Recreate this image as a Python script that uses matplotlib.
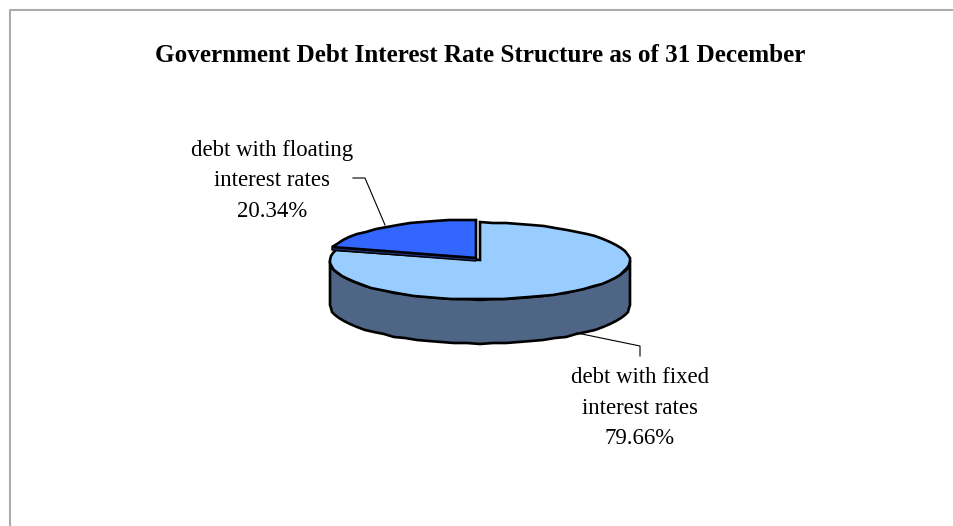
import numpy as np
import matplotlib
matplotlib.use("Agg")
import matplotlib.pyplot as plt

TITLE = "Government Debt Interest Rate Structure as of 31 December"
shares = [79.66, 20.34]
names = ["debt with fixed\ninterest rates", "debt with floating\ninterest rates"]

LIGHT = "#99ccff"
BLUE = "#3366ff"
WALL = "#4f6585"
NAVY = "#1f3a8a"
FRAME = "#ababab"

# pie geometry in pixels
RX, RY, DEPTH = 150, 38.5, 44
CX, CY = 480, 261
OFF_X, OFF_Y = -4, -3


def rim(a0, a1, cx=CX, cy=CY):
    # points on the ellipse, angles clockwise from 12 o'clock
    # coarse steps snapped to whole pixels give the bumpy outline
    n = max(int(abs(a1 - a0) / 5), 2) + 1
    t = np.radians(np.linspace(a0, a1, n))
    return np.round(cx + RX * np.sin(t)), np.round(cy - RY * np.cos(t))


def main():
    fig = plt.figure(figsize=(9.54, 5.26), dpi=100)
    ax = fig.add_axes([0, 0, 1, 1])
    ax.set_xlim(0, 954)
    ax.set_ylim(526, 0)
    ax.axis("off")

    # chart border, open on the right and at the bottom
    ax.plot([10, 10, 954], [526, 10, 10], color=FRAME, lw=1.5)

    split = 360 * shares[0] / sum(shares)

    # outer wall of the big slice
    x, y = rim(90, 270)
    ax.fill(np.r_[x, x[::-1]], np.r_[y, y[::-1] + DEPTH],
            facecolor=WALL, edgecolor="black", lw=1.9, zorder=2)

    # big slice top
    x, y = rim(0, split)
    ax.fill(np.r_[CX, x], np.r_[CY - 1, y],
            facecolor=LIGHT, edgecolor="black", lw=1.9, zorder=3)

    # small slice, pulled out from the pie
    bx, by = CX + OFF_X, CY + OFF_Y
    x, y = rim(split, 360, bx, by)
    ax.fill([bx, x[0], x[0], bx], [by, y[0], y[0] + 3, by + 3],
            facecolor=NAVY, edgecolor="black", lw=1, zorder=4)
    ax.fill(np.r_[bx, x], np.r_[by, y],
            facecolor=BLUE, edgecolor="black", lw=1.9, zorder=5)

    # leader lines
    ax.plot([385, 365, 353], [225, 178, 178], color="black", lw=0.8, zorder=6)
    ax.plot([577, 640, 640], [333, 346, 356], color="black", lw=0.8, zorder=6)

    serif = "Liberation Serif"
    ax.text(480, 56, TITLE, ha="center", va="center", family=serif,
            fontsize=18.1, fontweight="bold", color="black")
    for i, (px, py) in enumerate([(640, 408), (272, 181)]):
        label = f"{names[i]}\n{shares[i]:.2f}%"
        ax.text(px, py, label, ha="center", va="center", family=serif,
                fontsize=16.4, linespacing=1.6, color="black")

    fig.savefig("out.png", dpi=100, facecolor="white")


if __name__ == "__main__":
    main()
